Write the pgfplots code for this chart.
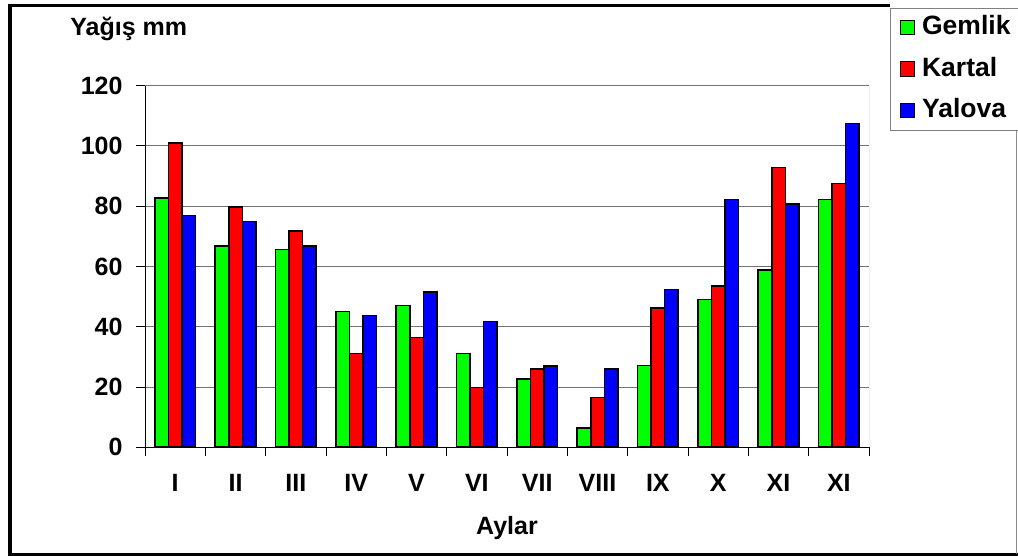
\documentclass[border=0pt]{standalone}
\usepackage{pgfplots}
\pgfplotsset{compat=1.18}
\usepackage{fontspec}
\setmainfont{Liberation Sans}
\definecolor{cgreen}{RGB}{0,255,0}
\definecolor{cred}{RGB}{255,0,0}
\definecolor{cblue}{RGB}{0,0,255}
\newcommand{\bigb}{\fontsize{25}{29}\selectfont\bfseries}
\newcommand{\legb}{\fontsize{26.5}{30}\selectfont\bfseries}
\pgfplotstableread{
x y
0 82.8
1 66.9
2 65.7
3 45.0
4 47.1
5 31.1
6 22.6
7 6.5
8 27.1
9 49.0
10 58.8
11 82.2
}\gemlik
\pgfplotstableread{
x y
0 100.9
1 79.7
2 71.7
3 31.1
4 36.4
5 19.9
6 25.9
7 16.5
8 46.3
9 53.6
10 92.8
11 87.5
}\kartal
\pgfplotstableread{
x y
0 76.9
1 74.9
2 66.9
3 43.7
4 51.5
5 41.7
6 27.0
7 25.9
8 52.4
9 82.2
10 80.7
11 107.4
}\yalova
\pgfplotsset{legsq/.style={legend image code/.code={\draw[##1,line width=1pt] (0pt,-6.5pt) rectangle (14.5pt,8pt);}}}
\begin{document}
\begin{tikzpicture}[x=1pt,y=1pt]
\useasboundingbox (0,0) rectangle (1018,556);
\begin{axis}[
  at={(145pt,108.7pt)}, anchor=south west,
  scale only axis, width=724pt, height=361.6pt,
  xmin=-0.5, xmax=11.5, ymin=0, ymax=120,
  ybar=0pt, bar width=13.6pt,
  axis x line*=bottom, axis y line*=left,
  axis line style={black, line width=1pt, -},
  xtick={-0.5,0.5,...,11.5},
  x tick label as interval,
  xticklabels={I,II,III,IV,V,VI,VII,VIII,IX,X,XI,XI},
  ytick={0,20,...,120},
  ymajorgrids, major grid style={black!55, line width=1pt},
  tick align=outside, major tick length=9pt,
  tick style={black, line width=1pt},
  tick label style={font=\bigb},
  yticklabel style={anchor=east, inner sep=0pt, xshift=-13.3pt},
  xticklabel style={anchor=base, inner sep=0pt, yshift=-35.7pt},
  /pgf/number format/assume math mode=true,
  ylabel={Yağış mm}, xlabel={Aylar},
  every axis y label/.style={at={(axis description cs:-0.108,1.140)}, anchor=base west, font=\bigb},
  every axis x label/.style={at={(axis description cs:0.5,-0.2425)}, anchor=base, font=\bigb},
  legend style={at={(axis description cs:1.029,1.215)}, anchor=north west, draw=black!50, line width=1.2pt, fill=white, font=\legb, row sep=12.5pt, column sep=5pt, inner xsep=9pt, inner ysep=5pt, nodes={inner xsep=2pt, inner ysep=3pt, text height=18pt, text depth=5pt}},
  legend cell align=left,
]
\addplot[fill=cgreen, draw=black, line width=1.6pt, legsq] table {\gemlik};
\addplot[fill=cred, draw=black, line width=1.6pt, legsq] table {\kartal};
\addplot[fill=cblue, draw=black, line width=1.6pt, legsq] table {\yalova};
\legend{Gemlik,Kartal,Yalova}
\draw[black!45, line width=1pt] (rel axis cs:1,0) -- (rel axis cs:1,1);
\end{axis}
\draw[line width=3.4pt, black] (890,550.7) -- (10,550.7) -- (10,1.7) -- (1018,1.7);
\draw[black!45, line width=1pt] (1016.5,425) -- (1016.5,1.7);
\end{tikzpicture}
\end{document}
